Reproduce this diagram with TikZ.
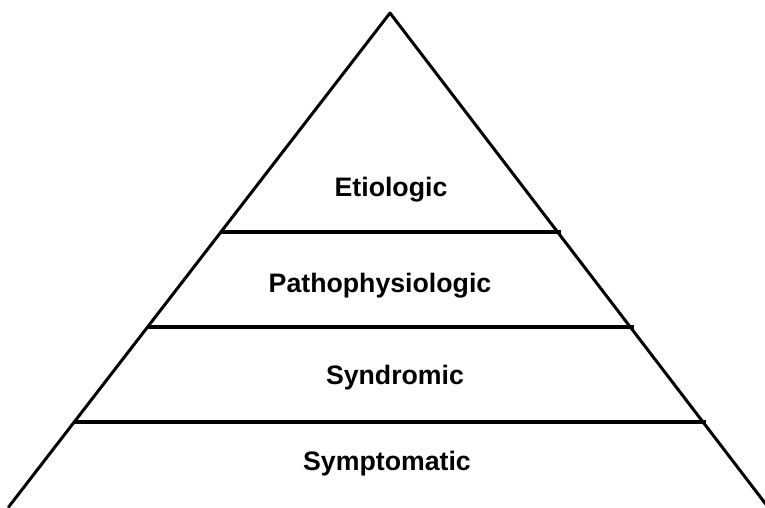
\documentclass[tikz,border=0pt]{standalone}
\usepackage{fontspec}
\setmainfont{Liberation Sans}
\begin{document}
\begin{tikzpicture}[x=1pt,y=-1pt,
  side/.style={line width=3pt,line cap=round,line join=round},
  tier/.style={line width=3.3pt},
  lbl/.style={font=\fontsize{26.7}{30}\selectfont\bfseries,anchor=base,inner sep=0pt}]
\useasboundingbox (0,0) rectangle (765,507);
\clip (0,0) rectangle (765,507);
\coordinate (apex) at (390,13);
\coordinate (bl) at (8.6,507);
\coordinate (br) at (768,507);
\draw[side] (bl) -- (apex) -- (br);
\coordinate (l1) at (220,232); \coordinate (r1) at (561,232);
\coordinate (l2) at (147,327); \coordinate (r2) at (634,327);
\coordinate (l3) at (74,422);  \coordinate (r3) at (706,422);
\draw[tier] (l1) -- (r1);
\draw[tier] (l2) -- (r2);
\draw[tier] (l3) -- (r3);
\node[lbl] (eti) at (391,196.7) {Etiologic};
\node[lbl] (pat) at (380,292) {Pathophysiologic};
\node[lbl] (syn) at (395,384) {Syndromic};
\node[lbl] (sym) at (387,470) {Symptomatic};
\end{tikzpicture}
\end{document}
